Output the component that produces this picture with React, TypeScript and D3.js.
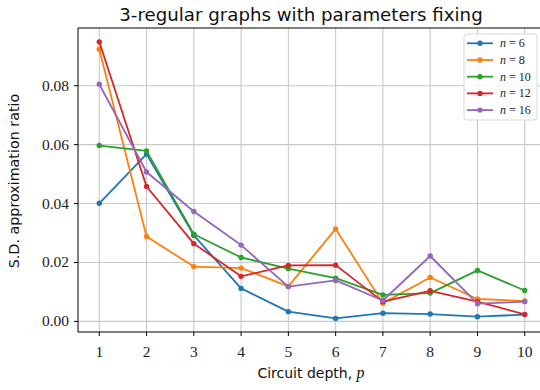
import React from "react";
import * as d3 from "d3";

const depths = [1, 2, 3, 4, 5, 6, 7, 8, 9, 10];
const seriesNames = ["6", "8", "10", "12", "16"];
const colors = ["#1f77b4", "#ff7f0e", "#2ca02c", "#d62728", "#9467bd"];
const n6 = [0.0401, 0.0568, 0.0292, 0.0112, 0.0033, 0.001, 0.0028, 0.0025, 0.0016, 0.0023];
const n8 = [0.0924, 0.0288, 0.0186, 0.0181, 0.0119, 0.0314, 0.0062, 0.0149, 0.0076, 0.0069];
const n10 = [0.0597, 0.0579, 0.0296, 0.0217, 0.0179, 0.0147, 0.009, 0.0096, 0.0173, 0.0105];
const n12 = [0.0949, 0.0458, 0.0264, 0.0153, 0.019, 0.0191, 0.0067, 0.0104, 0.0067, 0.0024];
const n16 = [0.0805, 0.0507, 0.0373, 0.0259, 0.0118, 0.0139, 0.0071, 0.0222, 0.006, 0.0067];
const allSeries = [n6, n8, n10, n12, n16];
const yTicks = [0, 0.02, 0.04, 0.06, 0.08];

const W = 540;
const H = 390;
const left = 78;
const right = 546;
const top = 28;
const bottom = 332;

export default function App() {
  const x = d3.scaleLinear().domain([0.55, 10.45]).range([left, right]);
  const y = d3.scaleLinear().domain([-0.0036, 0.0996]).range([bottom, top]);
  const line = d3
    .line<number>()
    .x((_, i) => x(depths[i]))
    .y((d) => y(d));
  const serif = "'Liberation Serif', 'DejaVu Serif', serif";
  const sans = "'DejaVu Sans', sans-serif";
  return (
    <svg
      width={W}
      height={H}
      style={{ position: "absolute", left: 0, top: 0, background: "#fff" }}
    >
      <defs>
        <clipPath id="plot">
          <rect x={left} y={top} width={right - left} height={bottom - top} />
        </clipPath>
      </defs>
      {/* grid */}
      {depths.map((d) => (
        <line key={"gx" + d} x1={x(d)} x2={x(d)} y1={top} y2={bottom} stroke="#c8c8c8" strokeWidth={1.1} />
      ))}
      {yTicks.map((t) => (
        <line key={"gy" + t} x1={left} x2={right} y1={y(t)} y2={y(t)} stroke="#c8c8c8" strokeWidth={1.1} />
      ))}
      {/* series */}
      <g clipPath="url(#plot)">
        {allSeries.map((s, k) => (
          <g key={"s" + k}>
            <path d={line(s) || ""} fill="none" stroke={colors[k]} strokeWidth={1.8} strokeLinejoin="round" />
            {s.map((v, i) => (
              <circle key={i} cx={x(depths[i])} cy={y(v)} r={2.7} fill={colors[k]} />
            ))}
          </g>
        ))}
      </g>
      {/* spines */}
      <line x1={left} x2={left} y1={top} y2={bottom} stroke="#000" strokeWidth={1} />
      <line x1={left} x2={right} y1={bottom} y2={bottom} stroke="#000" strokeWidth={1} />
      <line x1={left} x2={right} y1={top} y2={top} stroke="#000" strokeWidth={1} />
      {/* x ticks */}
      {depths.map((d) => (
        <g key={"xt" + d}>
          <line x1={x(d)} x2={x(d)} y1={bottom} y2={bottom + 4} stroke="#000" />
          <text x={x(d)} y={357} textAnchor="middle" fontFamily={serif} fontSize={15.5} fill="#222">
            {d}
          </text>
        </g>
      ))}
      {/* y ticks */}
      {yTicks.map((t) => (
        <g key={"yt" + t}>
          <line x1={left - 4} x2={left} y1={y(t)} y2={y(t)} stroke="#000" />
          <text x={69} y={y(t) + 5} textAnchor="end" fontFamily={serif} fontSize={15.5} fill="#222">
            {d3.format(".2f")(t)}
          </text>
        </g>
      ))}
      {/* labels */}
      <text x={301} y={21} textAnchor="middle" fontFamily={sans} fontSize={18.2} fill="#111">
        3-regular graphs with parameters fixing
      </text>
      <text x={311} y={378} textAnchor="middle" fontFamily={sans} fontSize={14} fill="#111">
        Circuit depth, <tspan fontFamily={serif} fontStyle="italic" fontSize={16}>p</tspan>
      </text>
      <text
        transform={`translate(19,181) rotate(-90)`}
        textAnchor="middle"
        fontFamily={sans}
        fontSize={14.3}
        fill="#111"
      >
        S.D. approximation ratio
      </text>
      {/* legend */}
      <rect x={464} y={34} width={73} height={86} rx={3} fill="#fff" fillOpacity={0.85} stroke="#d8d8d8" />
      {seriesNames.map((n, k) => {
        const ly = 43.3 + k * 16.7;
        return (
          <g key={"lg" + k}>
            <line x1={467} x2={493} y1={ly} y2={ly} stroke={colors[k]} strokeWidth={1.8} />
            <circle cx={480} cy={ly} r={2.7} fill={colors[k]} />
            <text x={500} y={ly + 4} fontFamily={serif} fontSize={12} fill="#222">
              <tspan fontStyle="italic">n</tspan> = {n}
            </text>
          </g>
        );
      })}
    </svg>
  );
}
